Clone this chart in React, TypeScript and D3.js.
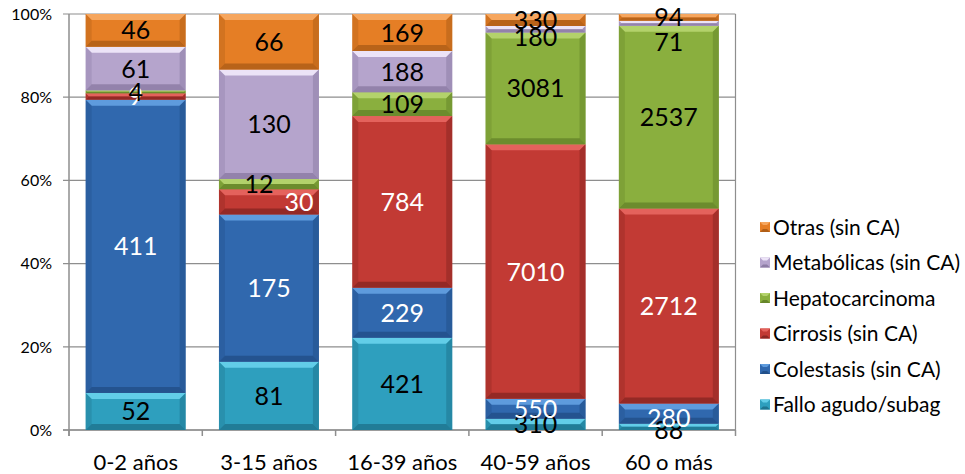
import React from "react";
import * as d3 from "d3";

const categories = ["0-2 años", "3-15 años", "16-39 años", "40-59 años", "60 o más"];
const seriesNames = [
  "Fallo agudo/subag",
  "Colestasis (sin CA)",
  "Cirrosis (sin CA)",
  "Hepatocarcinoma",
  "Metabólicas (sin CA)",
  "Otras (sin CA)",
];
const falloAgudo = [52, 81, 421, 310, 88];
const colestasis = [411, 175, 229, 550, 280];
const cirrosis = [9, 30, 784, 7010, 2712];
const hepatocarcinoma = [4, 12, 109, 3081, 2537];
const metabolicas = [61, 130, 188, 180, 71];
const otras = [46, 66, 169, 330, 94];
const yTicks = [0, 0.2, 0.4, 0.6, 0.8, 1];

const seriesValues = [falloAgudo, colestasis, cirrosis, hepatocarcinoma, metabolicas, otras];

const palette = [
  { base: "#2E9FBE", light: "#62CDE8", dark: "#1F7590", label: "#000" },
  { base: "#3068AE", light: "#5E9BDD", dark: "#22508A", label: "#fff" },
  { base: "#C23A34", light: "#E4625C", dark: "#8C2723", label: "#fff" },
  { base: "#8AAF3E", light: "#B3D26B", dark: "#66862A", label: "#000" },
  { base: "#B5A4CC", light: "#ECE3F7", dark: "#8D7DA5", label: "#000" },
  { base: "#E57E25", light: "#F6A65E", dark: "#B05E17", label: "#000" },
];

const labelNudge: Record<string, { dx: number; dy: number }> = {
  "3-15 años|Cirrosis (sin CA)": { dx: 30, dy: 0 },
  "3-15 años|Hepatocarcinoma": { dx: -10, dy: 0 },
  "40-59 años|Metabólicas (sin CA)": { dx: 0, dy: 8 },
  "60 o más|Metabólicas (sin CA)": { dx: 0, dy: 19 },
  "60 o más|Fallo agudo/subag": { dx: 0, dy: 3 },
  "60 o más|Colestasis (sin CA)": { dx: 0, dy: 4 },
};

const W = 965;
const H = 474;
const left = 69;
const right = 735.5;
const top = 14;
const bottom = 430;
const FONT = "Lato, 'Open Sans', sans-serif";

export default function App() {
  const rows = categories.map((c, i) => {
    const r: any = { cat: c };
    seriesNames.forEach((s, j) => (r[s] = seriesValues[j][i]));
    return r;
  });
  const stack = d3.stack<any>().keys(seriesNames).offset(d3.stackOffsetExpand);
  const stacked = stack(rows);

  const x = d3.scaleBand<string>().domain(categories).range([left, right]).paddingInner(0.25).paddingOuter(0.125);
  const y = d3.scaleLinear().domain([0, 1]).range([bottom, top]);
  const step = x.step();

  const segs: React.ReactNode[] = [];
  const labels: React.ReactNode[] = [];
  stacked.forEach((layer, si) => {
    const col = palette[si];
    layer.forEach((d, ci) => {
      const cat = categories[ci];
      const x0 = x(cat)!;
      const x1 = x0 + x.bandwidth();
      const yTop = y(d[1]);
      const yBot = y(d[0]);
      const h = yBot - yTop;
      const b = Math.min(6, h / 2);
      segs.push(
        <g key={`s-${si}-${ci}`}>
          <rect x={x0} y={yTop} width={x1 - x0} height={h} fill={col.base} />
          <polygon points={`${x0},${yTop} ${x1},${yTop} ${x1 - b},${yTop + b} ${x0 + b},${yTop + b}`} fill={col.light} />
          <polygon points={`${x0},${yBot} ${x1},${yBot} ${x1 - b},${yBot - b} ${x0 + b},${yBot - b}`} fill={col.dark} opacity={0.85} />
          <polygon points={`${x0},${yTop} ${x0 + b},${yTop + b} ${x0 + b},${yBot - b} ${x0},${yBot}`} fill={col.dark} opacity={0.35} />
          <polygon points={`${x1},${yTop} ${x1 - b},${yTop + b} ${x1 - b},${yBot - b} ${x1},${yBot}`} fill={col.dark} opacity={0.55} />
        </g>
      );
      const nudge = labelNudge[`${cat}|${seriesNames[si]}`] || { dx: 0, dy: 0 };
      labels.push(
        <text
          key={`l-${si}-${ci}`}
          x={x0 + x.bandwidth() / 2 + nudge.dx}
          y={(yTop + yBot) / 2 + nudge.dy}
          dy="0.36em"
          textAnchor="middle"
          fontSize={25}
          fill={col.label}
          fontFamily={FONT}
        >
          {seriesValues[si][ci]}
        </text>
      );
    });
  });

  const legendOrder = seriesNames.map((s, i) => ({ s, i })).reverse();

  return (
    <svg width={W} height={H} style={{ position: "absolute", left: 0, top: 0, background: "#fff" }}>
      {yTicks.map((t) => (
        <g key={`g-${t}`}>
          <line x1={left - 6} x2={right} y1={y(t)} y2={y(t)} stroke="#8E8E8E" strokeWidth={1.2} />
          <text x={52} y={y(t)} dy="0.36em" textAnchor="end" fontSize={16} fontFamily={FONT} fill="#000">
            {d3.format(".0%")(t)}
          </text>
        </g>
      ))}
      <line x1={right} x2={right} y1={top} y2={bottom} stroke="#8E8E8E" strokeWidth={1.2} />
      <line x1={left} x2={left} y1={top} y2={bottom + 6} stroke="#8E8E8E" strokeWidth={1.5} />
      <line x1={left - 6} x2={right} y1={bottom} y2={bottom} stroke="#8E8E8E" strokeWidth={1.5} />
      {d3.range(categories.length + 1).map((i) => (
        <line key={`ct-${i}`} x1={left + i * step} x2={left + i * step} y1={bottom} y2={bottom + 6} stroke="#8E8E8E" strokeWidth={1.5} />
      ))}
      {segs}
      {labels}
      {categories.map((c) => (
        <text key={`c-${c}`} x={x(c)! + x.bandwidth() / 2} y={462} dy="0.36em" textAnchor="middle" fontSize={22} fontFamily={FONT} fill="#000">
          {c}
        </text>
      ))}
      {legendOrder.map(({ s, i }, k) => {
        const ly = 227 + k * 35.5;
        const col = palette[i];
        return (
          <g key={`lg-${s}`}>
            <rect x={760} y={ly - 5} width={10} height={10} fill={col.base} />
            <polygon points={`${760},${ly - 5} ${770},${ly - 5} ${767},${ly - 2} ${763},${ly - 2}`} fill={col.light} />
            <polygon points={`${760},${ly + 5} ${770},${ly + 5} ${767},${ly + 2} ${763},${ly + 2}`} fill={col.dark} />
            <text x={773} y={ly} dy="0.36em" fontSize={21} fontFamily={FONT} fill="#000">
              {s}
            </text>
          </g>
        );
      })}
    </svg>
  );
}
